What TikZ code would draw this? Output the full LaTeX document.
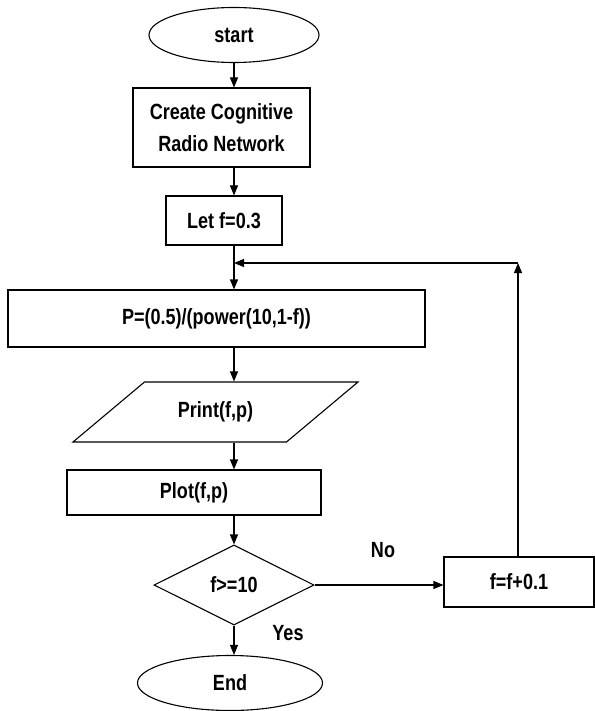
\documentclass[tikz,border=0pt]{standalone}
\usepackage{fontspec}
\setmainfont{Liberation Sans}[FakeStretch=0.82]
\usetikzlibrary{arrows.meta,shapes.geometric}
\tikzset{
  fa/.style={-{Triangle[length=10pt,width=8pt]}, line width=1.1pt},
  term/.style={ellipse, draw, line width=1.1pt, inner sep=0pt},
  pbox/.style={rectangle, draw, line width=1.1pt, align=center, inner sep=0pt},
  iobox/.style={trapezium, trapezium left angle=40, trapezium right angle=140,
                trapezium stretches body, draw, line width=1.1pt,
                text height=15pt, text depth=5pt, inner ysep=20pt},
  decbox/.style={diamond, draw, line width=1.1pt, inner sep=0pt},
}
\begin{document}
\begin{tikzpicture}[x=1pt, y=-1pt, font=\bfseries\fontsize{22}{32}\selectfont]
  \useasboundingbox (0,0) rectangle (594,711);
  \coordinate (sp) at (234,0);
  \node[term, minimum width=170pt, minimum height=55pt] (start) at (234,35){start};
  \node[pbox, minimum width=177pt, minimum height=79pt] (create) at (221.5,127.5){Create Cognitive\\Radio Network};
  \node[pbox, minimum width=116pt, minimum height=49pt] (init) at (224,220.5){Let f=0.3};
  \node[pbox, minimum width=417pt, minimum height=57pt] (calc) at (216.5,318.5){P=(0.5)/(power(10,1-f))};
  \node[iobox, minimum width=285pt] (print) at (215.5,412){Print(f,p)};
  \node[pbox, minimum width=254pt, minimum height=45pt] (plot) at (194,492.5){Plot(f,p)};
  \node[decbox, minimum width=160pt, minimum height=80pt] (dec) at (234,585){f>=10};
  \node[term, minimum width=185pt, minimum height=55pt] (finish) at (230,683){End};
  \node[pbox, minimum width=150pt, minimum height=50pt] (inc) at (519,582){f=f+0.1};
  \node (no) at (383,550){No};
  \node (yes) at (288,633){Yes};
  \coordinate (corner) at (518,263);
  \coordinate (join) at (234,263);
  % main flow
  \draw[fa] (start.south -| sp) -- (create.north -| sp);
  \draw[fa] (create.south -| sp) -- (init.north -| sp);
  \draw[fa] (init.south -| sp) -- (calc.north -| sp);
  \draw[fa] (calc.south -| sp) -- (print.north -| sp);
  \draw[fa] (print.south -| sp) -- (plot.north -| sp);
  \draw[fa] (plot.south -| sp) -- (dec.north);
  \draw[fa] (dec.south) -- (finish.north -| dec.south);
  % loop back
  \draw[fa] (dec.east) -- (dec.east -| inc.west);
  \draw[fa] (inc.north -| corner) -- (corner);
  \draw[fa] (corner) -- (join);
\end{tikzpicture}
\end{document}
